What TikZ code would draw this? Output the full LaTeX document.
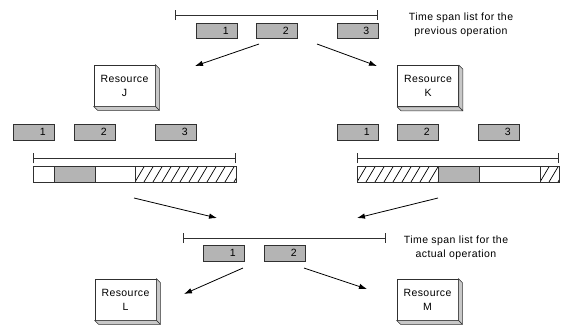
\documentclass[tikz,border=0pt]{standalone}
\usepackage{fontspec}
\setmainfont{Liberation Sans}
\usetikzlibrary{arrows.meta}
\definecolor{boxgray}{HTML}{B4B4B4}
\definecolor{sidegray}{HTML}{C8C8C8}
\definecolor{linecol}{HTML}{303030}
\tikzset{
  tbox/.style={draw=linecol, fill=boxgray, line width=0.8pt, minimum width=41pt, minimum height=15.5pt, inner sep=0pt},
  num/.style={font=\fontsize{10.5}{12}\selectfont, inner sep=0pt},
  resbox/.style={draw=linecol, fill=white, line width=0.8pt, minimum width=61pt, minimum height=41pt, inner sep=0pt, align=center, font=\fontsize{10.5}{14}\selectfont\addfontfeatures{LetterSpace=4}},
  side/.style={draw=linecol, fill=sidegray, line width=0.6pt, line join=round},
  tline/.style={draw=linecol, line width=0.8pt, {Bar[width=10pt,line width=0.8pt]}-{Bar[width=10pt,line width=0.8pt]}},
  note/.style={align=center, font=\fontsize{10.5}{14}\selectfont\addfontfeatures{LetterSpace=4}, inner sep=0pt},
  arr/.style={draw=black, line width=0.8pt, -{Latex[length=8pt,width=5.5pt]}},
  seg/.style={draw=linecol, line width=0.8pt},
  hatch/.style={draw=black, line width=0.7pt}
}
\newcommand{\resdepth}[1]{%
  \filldraw[side] (#1.north east) -- ++(4,4) -- ([shift={(4,4)}]#1.south east) -- (#1.south east) -- cycle;
  \filldraw[side] (#1.south west) -- ++(4,4) -- ([shift={(4,4)}]#1.south east) -- (#1.south east) -- cycle;
}
\newcommand{\tboxn}[4]{% name, left x, top y, label
  \node[tbox, anchor=north west] (#1) at (#2,#3) {};
  \node[num] (#1t) at ([xshift=-12pt]#1.east) {#4};
}
\begin{document}
\begin{tikzpicture}[x=1pt,y=-1pt]
\useasboundingbox (0,0) rectangle (565,325);

% ---- top time span list
\coordinate (ta) at (175,15);
\coordinate (tb) at (377.5,15);
\draw[tline] (ta) -- (tb);
\tboxn{p1}{196}{22.5}{1}
\tboxn{p2}{256}{22.5}{2}
\tboxn{p3}{336.5}{22.5}{3}
\node[note] (tnote) at (461,25) {Time span list for the\\previous operation};

% ---- resources J and K
\node[resbox] (J) at (124.5,85.5) {Resource\\J};
\resdepth{J}
\node[resbox] (K) at (428,86) {Resource\\K};
\resdepth{K}

\coordinate (aJs) at (259,44);
\coordinate (aJe) at (195,66);
\coordinate (aKs) at (317,44);
\coordinate (aKe) at (377,66);
\draw[arr] (aJs) -- (aJe);
\draw[arr] (aKs) -- (aKe);

% ---- left group
\tboxn{j1}{13}{124}{1}
\tboxn{j2}{74}{124}{2}
\tboxn{j3}{155}{124}{3}
\coordinate (la) at (33.3,158.3);
\coordinate (lb) at (236,158.3);
\draw[tline] (la) -- (lb);
\begin{scope}
  \clip (135,166) rectangle (236,182);
  \foreach \x in {126,135,...,240} { \draw[hatch] (\x,182) -- (\x+9.5,166); }
\end{scope}
\fill[boxgray] (54,166) rectangle (95,182);
\draw[seg] (33.3,166) rectangle (236,182);
\draw[seg] (54,166) -- (54,182);
\draw[seg] (95,166) -- (95,182);
\draw[seg] (135,166) -- (135,182);

% ---- right group
\tboxn{k1}{337}{124}{1}
\tboxn{k2}{397}{124}{2}
\tboxn{k3}{478}{124}{3}
\coordinate (ra) at (357,158.3);
\coordinate (rb) at (559,158.3);
\draw[tline] (ra) -- (rb);
\begin{scope}
  \clip (357,166) rectangle (438,182);
  \foreach \x in {348,357,...,440} { \draw[hatch] (\x,182) -- (\x+9.5,166); }
\end{scope}
\begin{scope}
  \clip (540,166) rectangle (559,182);
  \foreach \x in {531,540,...,560} { \draw[hatch] (\x,182) -- (\x+9.5,166); }
\end{scope}
\fill[boxgray] (438,166) rectangle (479,182);
\draw[seg] (357,166) rectangle (559,182);
\draw[seg] (438,166) -- (438,182);
\draw[seg] (479,166) -- (479,182);
\draw[seg] (540,166) -- (540,182);

% ---- arrows into actual list
\coordinate (mLs) at (134,198);
\coordinate (mLe) at (217,218);
\coordinate (mRs) at (438,198);
\coordinate (mRe) at (357,218);
\draw[arr] (mLs) -- (mLe);
\draw[arr] (mRs) -- (mRe);

% ---- actual operation list
\coordinate (aa) at (183,238);
\coordinate (ab) at (386,238);
\draw[tline] (aa) -- (ab);
\tboxn{a1}{203}{245}{1}
\tboxn{a2}{264}{245}{2}
\node[note] (anote) at (456,247.5) {Time span list for the\\actual operation};

% ---- resources L and M
\node[resbox] (L) at (125.5,299.5) {Resource\\L};
\resdepth{L}
\node[resbox] (M) at (427.5,299.5) {Resource\\M};
\resdepth{M}

\coordinate (bLs) at (243,268);
\coordinate (bLe) at (184,294);
\coordinate (bMs) at (304,268);
\coordinate (bMe) at (367,289);
\draw[arr] (bLs) -- (bLe);
\draw[arr] (bMs) -- (bMe);
\end{tikzpicture}
\end{document}
